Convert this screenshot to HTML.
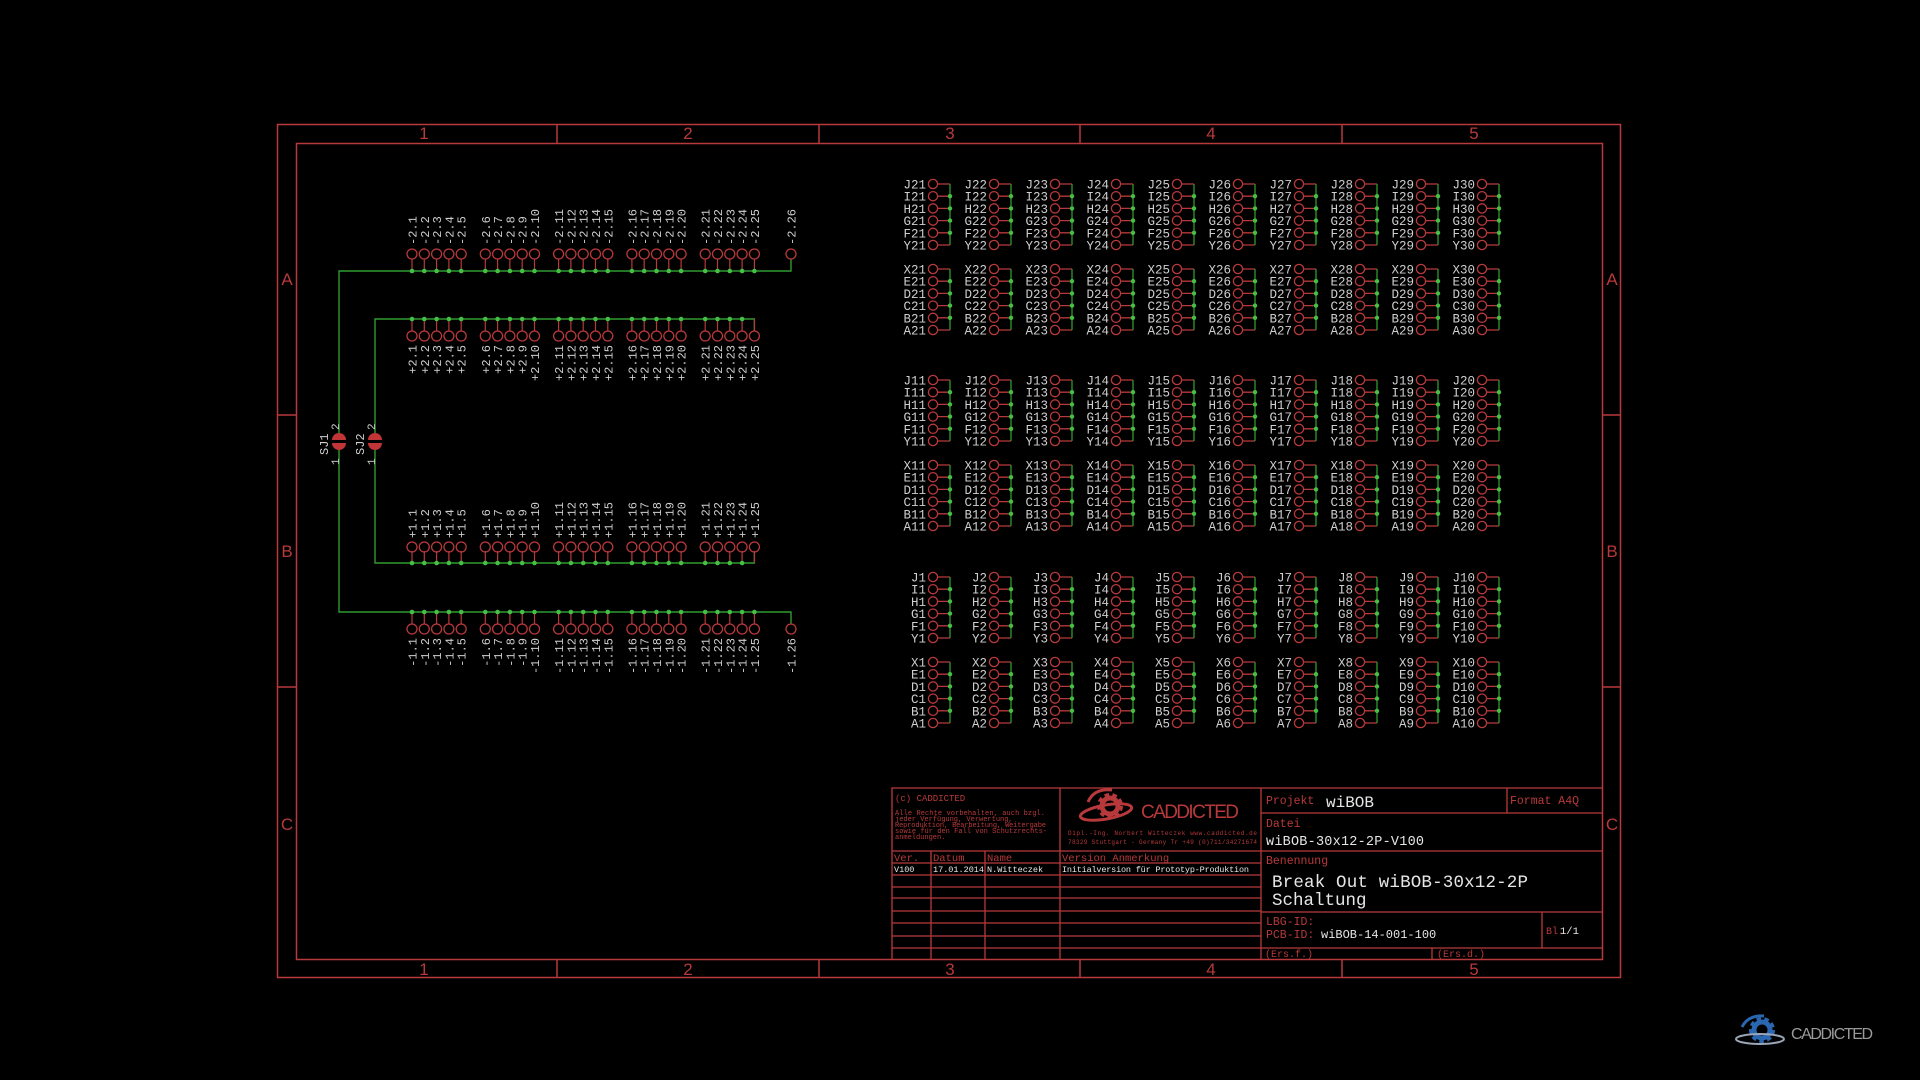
<!DOCTYPE html>
<html><head><meta charset="utf-8">
<style>
html,body{margin:0;padding:0;background:#000;}
svg{display:block;}
.m{font-family:"Liberation Mono",monospace;}
.g text{font-family:"Liberation Mono",monospace;font-size:12.5px;fill:#cfcfcf;text-anchor:end;}
.vs,.ve{font-family:"Liberation Mono",monospace;font-size:12px;fill:#cfcfcf;}
.ve{text-anchor:end;}
.r{fill:#b8393b;}
.w{fill:#e6e6e6;}
</style></head>
<body>
<svg width="1920" height="1080" viewBox="0 0 1920 1080" xmlns="http://www.w3.org/2000/svg">
<defs>
<g id="blk">
 <g fill="none" stroke="#b8393b" stroke-width="1.3">
  <circle cx="0" cy="0" r="4.6"/><circle cx="0" cy="12.2" r="4.6"/><circle cx="0" cy="24.4" r="4.6"/><circle cx="0" cy="36.6" r="4.6"/><circle cx="0" cy="48.8" r="4.6"/><circle cx="0" cy="61" r="4.6"/>
  <circle cx="0" cy="85" r="4.6"/><circle cx="0" cy="97.2" r="4.6"/><circle cx="0" cy="109.4" r="4.6"/><circle cx="0" cy="121.6" r="4.6"/><circle cx="0" cy="133.8" r="4.6"/><circle cx="0" cy="146" r="4.6"/>
  <path d="M4.6 0H17M4.6 12.2H17M4.6 24.4H17M4.6 36.6H17M4.6 48.8H17M4.6 61H17M4.6 85H17M4.6 97.2H17M4.6 109.4H17M4.6 121.6H17M4.6 133.8H17M4.6 146H17"/>
 </g>
 <path d="M17 0V61M17 85V146" stroke="#2f9a2f" stroke-width="1.3"/>
 <g fill="#45c045">
  <circle cx="17" cy="12.2" r="2.2"/><circle cx="17" cy="24.4" r="2.2"/><circle cx="17" cy="36.6" r="2.2"/><circle cx="17" cy="48.8" r="2.2"/>
  <circle cx="17" cy="97.2" r="2.2"/><circle cx="17" cy="109.4" r="2.2"/><circle cx="17" cy="121.6" r="2.2"/><circle cx="17" cy="133.8" r="2.2"/>
 </g>
</g>
<g id="pads" fill="none" stroke="#b8393b" stroke-width="1.3">
 <circle cx="412" cy="0" r="5"/><circle cx="424.3" cy="0" r="5"/><circle cx="436.6" cy="0" r="5"/><circle cx="448.9" cy="0" r="5"/><circle cx="461.2" cy="0" r="5"/>
 <circle cx="485.3" cy="0" r="5"/><circle cx="497.6" cy="0" r="5"/><circle cx="509.9" cy="0" r="5"/><circle cx="522.2" cy="0" r="5"/><circle cx="534.5" cy="0" r="5"/>
 <circle cx="558.6" cy="0" r="5"/><circle cx="570.9" cy="0" r="5"/><circle cx="583.2" cy="0" r="5"/><circle cx="595.5" cy="0" r="5"/><circle cx="607.8" cy="0" r="5"/>
 <circle cx="631.9" cy="0" r="5"/><circle cx="644.2" cy="0" r="5"/><circle cx="656.5" cy="0" r="5"/><circle cx="668.8" cy="0" r="5"/><circle cx="681.1" cy="0" r="5"/>
 <circle cx="705.2" cy="0" r="5"/><circle cx="717.5" cy="0" r="5"/><circle cx="729.8" cy="0" r="5"/><circle cx="742.1" cy="0" r="5"/><circle cx="754.4" cy="0" r="5"/>
</g>
<path id="stubs" fill="none" stroke="#b8393b" stroke-width="1.2" d="M412 0v12M424.3 0v12M436.6 0v12M448.9 0v12M461.2 0v12M485.3 0v12M497.6 0v12M509.9 0v12M522.2 0v12M534.5 0v12M558.6 0v12M570.9 0v12M583.2 0v12M595.5 0v12M607.8 0v12M631.9 0v12M644.2 0v12M656.5 0v12M668.8 0v12M681.1 0v12M705.2 0v12M717.5 0v12M729.8 0v12M742.1 0v12M754.4 0v12"/>
<g id="dots" fill="#45c045">
 <circle cx="412" cy="0" r="2.3"/><circle cx="424.3" cy="0" r="2.3"/><circle cx="436.6" cy="0" r="2.3"/><circle cx="448.9" cy="0" r="2.3"/><circle cx="461.2" cy="0" r="2.3"/>
 <circle cx="485.3" cy="0" r="2.3"/><circle cx="497.6" cy="0" r="2.3"/><circle cx="509.9" cy="0" r="2.3"/><circle cx="522.2" cy="0" r="2.3"/><circle cx="534.5" cy="0" r="2.3"/>
 <circle cx="558.6" cy="0" r="2.3"/><circle cx="570.9" cy="0" r="2.3"/><circle cx="583.2" cy="0" r="2.3"/><circle cx="595.5" cy="0" r="2.3"/><circle cx="607.8" cy="0" r="2.3"/>
 <circle cx="631.9" cy="0" r="2.3"/><circle cx="644.2" cy="0" r="2.3"/><circle cx="656.5" cy="0" r="2.3"/><circle cx="668.8" cy="0" r="2.3"/><circle cx="681.1" cy="0" r="2.3"/>
 <circle cx="705.2" cy="0" r="2.3"/><circle cx="717.5" cy="0" r="2.3"/><circle cx="729.8" cy="0" r="2.3"/><circle cx="742.1" cy="0" r="2.3"/>
</g>
</defs>

<rect width="1920" height="1080" fill="#000"/>

<!-- frame -->
<g fill="none" stroke="#b8393b" stroke-width="1.5">
 <rect x="277.5" y="124.5" width="1343" height="853"/>
 <rect x="296.5" y="143.5" width="1306" height="816"/>
 <path d="M557 124.5V143.5M819 124.5V143.5M1080 124.5V143.5M1342 124.5V143.5"/>
 <path d="M557 959.5V977.5M819 959.5V977.5M1080 959.5V977.5M1342 959.5V977.5"/>
 <path d="M277.5 415H296.5M277.5 687H296.5M1602.5 415H1620.5M1602.5 687H1620.5"/>
</g>
<g class="r" font-family="Liberation Sans, sans-serif" font-size="17" text-anchor="middle">
 <text x="424" y="139">1</text><text x="688" y="139">2</text><text x="950" y="139">3</text><text x="1211" y="139">4</text><text x="1474" y="139">5</text>
 <text x="424" y="975">1</text><text x="688" y="975">2</text><text x="950" y="975">3</text><text x="1211" y="975">4</text><text x="1474" y="975">5</text>
 <text x="287" y="285">A</text><text x="287" y="557">B</text><text x="287" y="830">C</text>
 <text x="1612" y="285">A</text><text x="1612" y="557">B</text><text x="1612" y="830">C</text>
</g>

<!-- left schematic buses -->
<g fill="none" stroke="#2f9a2f" stroke-width="1.4">
 <path d="M339 434V271H791V259"/>
 <path d="M339 448V612H791V624"/>
 <path d="M375 434V319H754.4V331"/>
 <path d="M375 448V563H754.4V552"/>
</g>
<!-- solder jumpers -->
<g>
 <path d="M332 440a7 7 0 0 1 14 0z" fill="#c23536"/><path d="M332 443a7 7 0 0 0 14 0z" fill="#c23536"/>
 <path d="M368 440a7 7 0 0 1 14 0z" fill="#c23536"/><path d="M368 443a7 7 0 0 0 14 0z" fill="#c23536"/>
</g>
<g class="vs">
 <text transform="translate(328,455) rotate(-90)">SJ1</text>
 <text transform="translate(364,455) rotate(-90)">SJ2</text>
 <text transform="translate(339,430) rotate(-90)" font-size="11">2</text>
 <text transform="translate(339,465) rotate(-90)" font-size="11">1</text>
 <text transform="translate(375,430) rotate(-90)" font-size="11">2</text>
 <text transform="translate(375,465) rotate(-90)" font-size="11">1</text>
</g>

<!-- row -2 -->
<use href="#pads" transform="translate(0,254)"/>
<use href="#stubs" transform="translate(0,259)"/>
<use href="#dots" transform="translate(0,271)"/>
<circle cx="754.4" cy="271" r="2.3" fill="#45c045"/>
<circle cx="791" cy="254" r="5" fill="none" stroke="#b8393b" stroke-width="1.3"/>
<!-- row +2 -->
<use href="#pads" transform="translate(0,336)"/>
<use href="#stubs" transform="translate(0,319)"/>
<use href="#dots" transform="translate(0,319)"/>
<!-- row +1 -->
<use href="#pads" transform="translate(0,547)"/>
<use href="#stubs" transform="translate(0,551)"/>
<use href="#dots" transform="translate(0,563)"/>
<!-- row -1 -->
<use href="#pads" transform="translate(0,629)"/>
<use href="#stubs" transform="translate(0,612)"/>
<use href="#dots" transform="translate(0,612)"/>
<circle cx="754.4" cy="612" r="2.3" fill="#45c045"/>
<circle cx="791" cy="629" r="5" fill="none" stroke="#b8393b" stroke-width="1.3"/>

<!-- labels -2 -->
<g class="vs">
<text transform="translate(416.5,245) rotate(-90)">-2.1</text><text transform="translate(428.8,245) rotate(-90)">-2.2</text><text transform="translate(441.1,245) rotate(-90)">-2.3</text><text transform="translate(453.4,245) rotate(-90)">-2.4</text><text transform="translate(465.7,245) rotate(-90)">-2.5</text>
<text transform="translate(489.8,245) rotate(-90)">-2.6</text><text transform="translate(502.1,245) rotate(-90)">-2.7</text><text transform="translate(514.4,245) rotate(-90)">-2.8</text><text transform="translate(526.7,245) rotate(-90)">-2.9</text><text transform="translate(539,245) rotate(-90)">-2.10</text>
<text transform="translate(563.1,245) rotate(-90)">-2.11</text><text transform="translate(575.4,245) rotate(-90)">-2.12</text><text transform="translate(587.7,245) rotate(-90)">-2.13</text><text transform="translate(600,245) rotate(-90)">-2.14</text><text transform="translate(612.3,245) rotate(-90)">-2.15</text>
<text transform="translate(636.4,245) rotate(-90)">-2.16</text><text transform="translate(648.7,245) rotate(-90)">-2.17</text><text transform="translate(661,245) rotate(-90)">-2.18</text><text transform="translate(673.3,245) rotate(-90)">-2.19</text><text transform="translate(685.6,245) rotate(-90)">-2.20</text>
<text transform="translate(709.7,245) rotate(-90)">-2.21</text><text transform="translate(722,245) rotate(-90)">-2.22</text><text transform="translate(734.3,245) rotate(-90)">-2.23</text><text transform="translate(746.6,245) rotate(-90)">-2.24</text><text transform="translate(758.9,245) rotate(-90)">-2.25</text>
<text transform="translate(795.5,245) rotate(-90)">-2.26</text>
</g>
<!-- labels +2 -->
<g class="ve">
<text transform="translate(416.5,345) rotate(-90)">+2.1</text><text transform="translate(428.8,345) rotate(-90)">+2.2</text><text transform="translate(441.1,345) rotate(-90)">+2.3</text><text transform="translate(453.4,345) rotate(-90)">+2.4</text><text transform="translate(465.7,345) rotate(-90)">+2.5</text>
<text transform="translate(489.8,345) rotate(-90)">+2.6</text><text transform="translate(502.1,345) rotate(-90)">+2.7</text><text transform="translate(514.4,345) rotate(-90)">+2.8</text><text transform="translate(526.7,345) rotate(-90)">+2.9</text><text transform="translate(539,345) rotate(-90)">+2.10</text>
<text transform="translate(563.1,345) rotate(-90)">+2.11</text><text transform="translate(575.4,345) rotate(-90)">+2.12</text><text transform="translate(587.7,345) rotate(-90)">+2.13</text><text transform="translate(600,345) rotate(-90)">+2.14</text><text transform="translate(612.3,345) rotate(-90)">+2.15</text>
<text transform="translate(636.4,345) rotate(-90)">+2.16</text><text transform="translate(648.7,345) rotate(-90)">+2.17</text><text transform="translate(661,345) rotate(-90)">+2.18</text><text transform="translate(673.3,345) rotate(-90)">+2.19</text><text transform="translate(685.6,345) rotate(-90)">+2.20</text>
<text transform="translate(709.7,345) rotate(-90)">+2.21</text><text transform="translate(722,345) rotate(-90)">+2.22</text><text transform="translate(734.3,345) rotate(-90)">+2.23</text><text transform="translate(746.6,345) rotate(-90)">+2.24</text><text transform="translate(758.9,345) rotate(-90)">+2.25</text>
</g>
<!-- labels +1 -->
<g class="vs">
<text transform="translate(416.5,538) rotate(-90)">+1.1</text><text transform="translate(428.8,538) rotate(-90)">+1.2</text><text transform="translate(441.1,538) rotate(-90)">+1.3</text><text transform="translate(453.4,538) rotate(-90)">+1.4</text><text transform="translate(465.7,538) rotate(-90)">+1.5</text>
<text transform="translate(489.8,538) rotate(-90)">+1.6</text><text transform="translate(502.1,538) rotate(-90)">+1.7</text><text transform="translate(514.4,538) rotate(-90)">+1.8</text><text transform="translate(526.7,538) rotate(-90)">+1.9</text><text transform="translate(539,538) rotate(-90)">+1.10</text>
<text transform="translate(563.1,538) rotate(-90)">+1.11</text><text transform="translate(575.4,538) rotate(-90)">+1.12</text><text transform="translate(587.7,538) rotate(-90)">+1.13</text><text transform="translate(600,538) rotate(-90)">+1.14</text><text transform="translate(612.3,538) rotate(-90)">+1.15</text>
<text transform="translate(636.4,538) rotate(-90)">+1.16</text><text transform="translate(648.7,538) rotate(-90)">+1.17</text><text transform="translate(661,538) rotate(-90)">+1.18</text><text transform="translate(673.3,538) rotate(-90)">+1.19</text><text transform="translate(685.6,538) rotate(-90)">+1.20</text>
<text transform="translate(709.7,538) rotate(-90)">+1.21</text><text transform="translate(722,538) rotate(-90)">+1.22</text><text transform="translate(734.3,538) rotate(-90)">+1.23</text><text transform="translate(746.6,538) rotate(-90)">+1.24</text><text transform="translate(758.9,538) rotate(-90)">+1.25</text>
</g>
<!-- labels -1 -->
<g class="ve">
<text transform="translate(416.5,638) rotate(-90)">-1.1</text><text transform="translate(428.8,638) rotate(-90)">-1.2</text><text transform="translate(441.1,638) rotate(-90)">-1.3</text><text transform="translate(453.4,638) rotate(-90)">-1.4</text><text transform="translate(465.7,638) rotate(-90)">-1.5</text>
<text transform="translate(489.8,638) rotate(-90)">-1.6</text><text transform="translate(502.1,638) rotate(-90)">-1.7</text><text transform="translate(514.4,638) rotate(-90)">-1.8</text><text transform="translate(526.7,638) rotate(-90)">-1.9</text><text transform="translate(539,638) rotate(-90)">-1.10</text>
<text transform="translate(563.1,638) rotate(-90)">-1.11</text><text transform="translate(575.4,638) rotate(-90)">-1.12</text><text transform="translate(587.7,638) rotate(-90)">-1.13</text><text transform="translate(600,638) rotate(-90)">-1.14</text><text transform="translate(612.3,638) rotate(-90)">-1.15</text>
<text transform="translate(636.4,638) rotate(-90)">-1.16</text><text transform="translate(648.7,638) rotate(-90)">-1.17</text><text transform="translate(661,638) rotate(-90)">-1.18</text><text transform="translate(673.3,638) rotate(-90)">-1.19</text><text transform="translate(685.6,638) rotate(-90)">-1.20</text>
<text transform="translate(709.7,638) rotate(-90)">-1.21</text><text transform="translate(722,638) rotate(-90)">-1.22</text><text transform="translate(734.3,638) rotate(-90)">-1.23</text><text transform="translate(746.6,638) rotate(-90)">-1.24</text><text transform="translate(758.9,638) rotate(-90)">-1.25</text>
<text transform="translate(795.5,638) rotate(-90)">-1.26</text>
</g>

<!-- right grid -->
<g class="g">
<!-- band 1 -->
<g transform="translate(933,184)"><use href="#blk"/><text><tspan x="-7" y="4.5">J21</tspan><tspan x="-7" y="16.7">I21</tspan><tspan x="-7" y="28.9">H21</tspan><tspan x="-7" y="41.1">G21</tspan><tspan x="-7" y="53.3">F21</tspan><tspan x="-7" y="65.5">Y21</tspan><tspan x="-7" y="89.5">X21</tspan><tspan x="-7" y="101.7">E21</tspan><tspan x="-7" y="113.9">D21</tspan><tspan x="-7" y="126.1">C21</tspan><tspan x="-7" y="138.3">B21</tspan><tspan x="-7" y="150.5">A21</tspan></text></g>
<g transform="translate(994,184)"><use href="#blk"/><text><tspan x="-7" y="4.5">J22</tspan><tspan x="-7" y="16.7">I22</tspan><tspan x="-7" y="28.9">H22</tspan><tspan x="-7" y="41.1">G22</tspan><tspan x="-7" y="53.3">F22</tspan><tspan x="-7" y="65.5">Y22</tspan><tspan x="-7" y="89.5">X22</tspan><tspan x="-7" y="101.7">E22</tspan><tspan x="-7" y="113.9">D22</tspan><tspan x="-7" y="126.1">C22</tspan><tspan x="-7" y="138.3">B22</tspan><tspan x="-7" y="150.5">A22</tspan></text></g>
<g transform="translate(1055,184)"><use href="#blk"/><text><tspan x="-7" y="4.5">J23</tspan><tspan x="-7" y="16.7">I23</tspan><tspan x="-7" y="28.9">H23</tspan><tspan x="-7" y="41.1">G23</tspan><tspan x="-7" y="53.3">F23</tspan><tspan x="-7" y="65.5">Y23</tspan><tspan x="-7" y="89.5">X23</tspan><tspan x="-7" y="101.7">E23</tspan><tspan x="-7" y="113.9">D23</tspan><tspan x="-7" y="126.1">C23</tspan><tspan x="-7" y="138.3">B23</tspan><tspan x="-7" y="150.5">A23</tspan></text></g>
<g transform="translate(1116,184)"><use href="#blk"/><text><tspan x="-7" y="4.5">J24</tspan><tspan x="-7" y="16.7">I24</tspan><tspan x="-7" y="28.9">H24</tspan><tspan x="-7" y="41.1">G24</tspan><tspan x="-7" y="53.3">F24</tspan><tspan x="-7" y="65.5">Y24</tspan><tspan x="-7" y="89.5">X24</tspan><tspan x="-7" y="101.7">E24</tspan><tspan x="-7" y="113.9">D24</tspan><tspan x="-7" y="126.1">C24</tspan><tspan x="-7" y="138.3">B24</tspan><tspan x="-7" y="150.5">A24</tspan></text></g>
<g transform="translate(1177,184)"><use href="#blk"/><text><tspan x="-7" y="4.5">J25</tspan><tspan x="-7" y="16.7">I25</tspan><tspan x="-7" y="28.9">H25</tspan><tspan x="-7" y="41.1">G25</tspan><tspan x="-7" y="53.3">F25</tspan><tspan x="-7" y="65.5">Y25</tspan><tspan x="-7" y="89.5">X25</tspan><tspan x="-7" y="101.7">E25</tspan><tspan x="-7" y="113.9">D25</tspan><tspan x="-7" y="126.1">C25</tspan><tspan x="-7" y="138.3">B25</tspan><tspan x="-7" y="150.5">A25</tspan></text></g>
<g transform="translate(1238,184)"><use href="#blk"/><text><tspan x="-7" y="4.5">J26</tspan><tspan x="-7" y="16.7">I26</tspan><tspan x="-7" y="28.9">H26</tspan><tspan x="-7" y="41.1">G26</tspan><tspan x="-7" y="53.3">F26</tspan><tspan x="-7" y="65.5">Y26</tspan><tspan x="-7" y="89.5">X26</tspan><tspan x="-7" y="101.7">E26</tspan><tspan x="-7" y="113.9">D26</tspan><tspan x="-7" y="126.1">C26</tspan><tspan x="-7" y="138.3">B26</tspan><tspan x="-7" y="150.5">A26</tspan></text></g>
<g transform="translate(1299,184)"><use href="#blk"/><text><tspan x="-7" y="4.5">J27</tspan><tspan x="-7" y="16.7">I27</tspan><tspan x="-7" y="28.9">H27</tspan><tspan x="-7" y="41.1">G27</tspan><tspan x="-7" y="53.3">F27</tspan><tspan x="-7" y="65.5">Y27</tspan><tspan x="-7" y="89.5">X27</tspan><tspan x="-7" y="101.7">E27</tspan><tspan x="-7" y="113.9">D27</tspan><tspan x="-7" y="126.1">C27</tspan><tspan x="-7" y="138.3">B27</tspan><tspan x="-7" y="150.5">A27</tspan></text></g>
<g transform="translate(1360,184)"><use href="#blk"/><text><tspan x="-7" y="4.5">J28</tspan><tspan x="-7" y="16.7">I28</tspan><tspan x="-7" y="28.9">H28</tspan><tspan x="-7" y="41.1">G28</tspan><tspan x="-7" y="53.3">F28</tspan><tspan x="-7" y="65.5">Y28</tspan><tspan x="-7" y="89.5">X28</tspan><tspan x="-7" y="101.7">E28</tspan><tspan x="-7" y="113.9">D28</tspan><tspan x="-7" y="126.1">C28</tspan><tspan x="-7" y="138.3">B28</tspan><tspan x="-7" y="150.5">A28</tspan></text></g>
<g transform="translate(1421,184)"><use href="#blk"/><text><tspan x="-7" y="4.5">J29</tspan><tspan x="-7" y="16.7">I29</tspan><tspan x="-7" y="28.9">H29</tspan><tspan x="-7" y="41.1">G29</tspan><tspan x="-7" y="53.3">F29</tspan><tspan x="-7" y="65.5">Y29</tspan><tspan x="-7" y="89.5">X29</tspan><tspan x="-7" y="101.7">E29</tspan><tspan x="-7" y="113.9">D29</tspan><tspan x="-7" y="126.1">C29</tspan><tspan x="-7" y="138.3">B29</tspan><tspan x="-7" y="150.5">A29</tspan></text></g>
<g transform="translate(1482,184)"><use href="#blk"/><text><tspan x="-7" y="4.5">J30</tspan><tspan x="-7" y="16.7">I30</tspan><tspan x="-7" y="28.9">H30</tspan><tspan x="-7" y="41.1">G30</tspan><tspan x="-7" y="53.3">F30</tspan><tspan x="-7" y="65.5">Y30</tspan><tspan x="-7" y="89.5">X30</tspan><tspan x="-7" y="101.7">E30</tspan><tspan x="-7" y="113.9">D30</tspan><tspan x="-7" y="126.1">C30</tspan><tspan x="-7" y="138.3">B30</tspan><tspan x="-7" y="150.5">A30</tspan></text></g>
<!-- band 2 -->
<g transform="translate(933,380)"><use href="#blk"/><text><tspan x="-7" y="4.5">J11</tspan><tspan x="-7" y="16.7">I11</tspan><tspan x="-7" y="28.9">H11</tspan><tspan x="-7" y="41.1">G11</tspan><tspan x="-7" y="53.3">F11</tspan><tspan x="-7" y="65.5">Y11</tspan><tspan x="-7" y="89.5">X11</tspan><tspan x="-7" y="101.7">E11</tspan><tspan x="-7" y="113.9">D11</tspan><tspan x="-7" y="126.1">C11</tspan><tspan x="-7" y="138.3">B11</tspan><tspan x="-7" y="150.5">A11</tspan></text></g>
<g transform="translate(994,380)"><use href="#blk"/><text><tspan x="-7" y="4.5">J12</tspan><tspan x="-7" y="16.7">I12</tspan><tspan x="-7" y="28.9">H12</tspan><tspan x="-7" y="41.1">G12</tspan><tspan x="-7" y="53.3">F12</tspan><tspan x="-7" y="65.5">Y12</tspan><tspan x="-7" y="89.5">X12</tspan><tspan x="-7" y="101.7">E12</tspan><tspan x="-7" y="113.9">D12</tspan><tspan x="-7" y="126.1">C12</tspan><tspan x="-7" y="138.3">B12</tspan><tspan x="-7" y="150.5">A12</tspan></text></g>
<g transform="translate(1055,380)"><use href="#blk"/><text><tspan x="-7" y="4.5">J13</tspan><tspan x="-7" y="16.7">I13</tspan><tspan x="-7" y="28.9">H13</tspan><tspan x="-7" y="41.1">G13</tspan><tspan x="-7" y="53.3">F13</tspan><tspan x="-7" y="65.5">Y13</tspan><tspan x="-7" y="89.5">X13</tspan><tspan x="-7" y="101.7">E13</tspan><tspan x="-7" y="113.9">D13</tspan><tspan x="-7" y="126.1">C13</tspan><tspan x="-7" y="138.3">B13</tspan><tspan x="-7" y="150.5">A13</tspan></text></g>
<g transform="translate(1116,380)"><use href="#blk"/><text><tspan x="-7" y="4.5">J14</tspan><tspan x="-7" y="16.7">I14</tspan><tspan x="-7" y="28.9">H14</tspan><tspan x="-7" y="41.1">G14</tspan><tspan x="-7" y="53.3">F14</tspan><tspan x="-7" y="65.5">Y14</tspan><tspan x="-7" y="89.5">X14</tspan><tspan x="-7" y="101.7">E14</tspan><tspan x="-7" y="113.9">D14</tspan><tspan x="-7" y="126.1">C14</tspan><tspan x="-7" y="138.3">B14</tspan><tspan x="-7" y="150.5">A14</tspan></text></g>
<g transform="translate(1177,380)"><use href="#blk"/><text><tspan x="-7" y="4.5">J15</tspan><tspan x="-7" y="16.7">I15</tspan><tspan x="-7" y="28.9">H15</tspan><tspan x="-7" y="41.1">G15</tspan><tspan x="-7" y="53.3">F15</tspan><tspan x="-7" y="65.5">Y15</tspan><tspan x="-7" y="89.5">X15</tspan><tspan x="-7" y="101.7">E15</tspan><tspan x="-7" y="113.9">D15</tspan><tspan x="-7" y="126.1">C15</tspan><tspan x="-7" y="138.3">B15</tspan><tspan x="-7" y="150.5">A15</tspan></text></g>
<g transform="translate(1238,380)"><use href="#blk"/><text><tspan x="-7" y="4.5">J16</tspan><tspan x="-7" y="16.7">I16</tspan><tspan x="-7" y="28.9">H16</tspan><tspan x="-7" y="41.1">G16</tspan><tspan x="-7" y="53.3">F16</tspan><tspan x="-7" y="65.5">Y16</tspan><tspan x="-7" y="89.5">X16</tspan><tspan x="-7" y="101.7">E16</tspan><tspan x="-7" y="113.9">D16</tspan><tspan x="-7" y="126.1">C16</tspan><tspan x="-7" y="138.3">B16</tspan><tspan x="-7" y="150.5">A16</tspan></text></g>
<g transform="translate(1299,380)"><use href="#blk"/><text><tspan x="-7" y="4.5">J17</tspan><tspan x="-7" y="16.7">I17</tspan><tspan x="-7" y="28.9">H17</tspan><tspan x="-7" y="41.1">G17</tspan><tspan x="-7" y="53.3">F17</tspan><tspan x="-7" y="65.5">Y17</tspan><tspan x="-7" y="89.5">X17</tspan><tspan x="-7" y="101.7">E17</tspan><tspan x="-7" y="113.9">D17</tspan><tspan x="-7" y="126.1">C17</tspan><tspan x="-7" y="138.3">B17</tspan><tspan x="-7" y="150.5">A17</tspan></text></g>
<g transform="translate(1360,380)"><use href="#blk"/><text><tspan x="-7" y="4.5">J18</tspan><tspan x="-7" y="16.7">I18</tspan><tspan x="-7" y="28.9">H18</tspan><tspan x="-7" y="41.1">G18</tspan><tspan x="-7" y="53.3">F18</tspan><tspan x="-7" y="65.5">Y18</tspan><tspan x="-7" y="89.5">X18</tspan><tspan x="-7" y="101.7">E18</tspan><tspan x="-7" y="113.9">D18</tspan><tspan x="-7" y="126.1">C18</tspan><tspan x="-7" y="138.3">B18</tspan><tspan x="-7" y="150.5">A18</tspan></text></g>
<g transform="translate(1421,380)"><use href="#blk"/><text><tspan x="-7" y="4.5">J19</tspan><tspan x="-7" y="16.7">I19</tspan><tspan x="-7" y="28.9">H19</tspan><tspan x="-7" y="41.1">G19</tspan><tspan x="-7" y="53.3">F19</tspan><tspan x="-7" y="65.5">Y19</tspan><tspan x="-7" y="89.5">X19</tspan><tspan x="-7" y="101.7">E19</tspan><tspan x="-7" y="113.9">D19</tspan><tspan x="-7" y="126.1">C19</tspan><tspan x="-7" y="138.3">B19</tspan><tspan x="-7" y="150.5">A19</tspan></text></g>
<g transform="translate(1482,380)"><use href="#blk"/><text><tspan x="-7" y="4.5">J20</tspan><tspan x="-7" y="16.7">I20</tspan><tspan x="-7" y="28.9">H20</tspan><tspan x="-7" y="41.1">G20</tspan><tspan x="-7" y="53.3">F20</tspan><tspan x="-7" y="65.5">Y20</tspan><tspan x="-7" y="89.5">X20</tspan><tspan x="-7" y="101.7">E20</tspan><tspan x="-7" y="113.9">D20</tspan><tspan x="-7" y="126.1">C20</tspan><tspan x="-7" y="138.3">B20</tspan><tspan x="-7" y="150.5">A20</tspan></text></g>
<!-- band 3 -->
<g transform="translate(933,577)"><use href="#blk"/><text><tspan x="-7" y="4.5">J1</tspan><tspan x="-7" y="16.7">I1</tspan><tspan x="-7" y="28.9">H1</tspan><tspan x="-7" y="41.1">G1</tspan><tspan x="-7" y="53.3">F1</tspan><tspan x="-7" y="65.5">Y1</tspan><tspan x="-7" y="89.5">X1</tspan><tspan x="-7" y="101.7">E1</tspan><tspan x="-7" y="113.9">D1</tspan><tspan x="-7" y="126.1">C1</tspan><tspan x="-7" y="138.3">B1</tspan><tspan x="-7" y="150.5">A1</tspan></text></g>
<g transform="translate(994,577)"><use href="#blk"/><text><tspan x="-7" y="4.5">J2</tspan><tspan x="-7" y="16.7">I2</tspan><tspan x="-7" y="28.9">H2</tspan><tspan x="-7" y="41.1">G2</tspan><tspan x="-7" y="53.3">F2</tspan><tspan x="-7" y="65.5">Y2</tspan><tspan x="-7" y="89.5">X2</tspan><tspan x="-7" y="101.7">E2</tspan><tspan x="-7" y="113.9">D2</tspan><tspan x="-7" y="126.1">C2</tspan><tspan x="-7" y="138.3">B2</tspan><tspan x="-7" y="150.5">A2</tspan></text></g>
<g transform="translate(1055,577)"><use href="#blk"/><text><tspan x="-7" y="4.5">J3</tspan><tspan x="-7" y="16.7">I3</tspan><tspan x="-7" y="28.9">H3</tspan><tspan x="-7" y="41.1">G3</tspan><tspan x="-7" y="53.3">F3</tspan><tspan x="-7" y="65.5">Y3</tspan><tspan x="-7" y="89.5">X3</tspan><tspan x="-7" y="101.7">E3</tspan><tspan x="-7" y="113.9">D3</tspan><tspan x="-7" y="126.1">C3</tspan><tspan x="-7" y="138.3">B3</tspan><tspan x="-7" y="150.5">A3</tspan></text></g>
<g transform="translate(1116,577)"><use href="#blk"/><text><tspan x="-7" y="4.5">J4</tspan><tspan x="-7" y="16.7">I4</tspan><tspan x="-7" y="28.9">H4</tspan><tspan x="-7" y="41.1">G4</tspan><tspan x="-7" y="53.3">F4</tspan><tspan x="-7" y="65.5">Y4</tspan><tspan x="-7" y="89.5">X4</tspan><tspan x="-7" y="101.7">E4</tspan><tspan x="-7" y="113.9">D4</tspan><tspan x="-7" y="126.1">C4</tspan><tspan x="-7" y="138.3">B4</tspan><tspan x="-7" y="150.5">A4</tspan></text></g>
<g transform="translate(1177,577)"><use href="#blk"/><text><tspan x="-7" y="4.5">J5</tspan><tspan x="-7" y="16.7">I5</tspan><tspan x="-7" y="28.9">H5</tspan><tspan x="-7" y="41.1">G5</tspan><tspan x="-7" y="53.3">F5</tspan><tspan x="-7" y="65.5">Y5</tspan><tspan x="-7" y="89.5">X5</tspan><tspan x="-7" y="101.7">E5</tspan><tspan x="-7" y="113.9">D5</tspan><tspan x="-7" y="126.1">C5</tspan><tspan x="-7" y="138.3">B5</tspan><tspan x="-7" y="150.5">A5</tspan></text></g>
<g transform="translate(1238,577)"><use href="#blk"/><text><tspan x="-7" y="4.5">J6</tspan><tspan x="-7" y="16.7">I6</tspan><tspan x="-7" y="28.9">H6</tspan><tspan x="-7" y="41.1">G6</tspan><tspan x="-7" y="53.3">F6</tspan><tspan x="-7" y="65.5">Y6</tspan><tspan x="-7" y="89.5">X6</tspan><tspan x="-7" y="101.7">E6</tspan><tspan x="-7" y="113.9">D6</tspan><tspan x="-7" y="126.1">C6</tspan><tspan x="-7" y="138.3">B6</tspan><tspan x="-7" y="150.5">A6</tspan></text></g>
<g transform="translate(1299,577)"><use href="#blk"/><text><tspan x="-7" y="4.5">J7</tspan><tspan x="-7" y="16.7">I7</tspan><tspan x="-7" y="28.9">H7</tspan><tspan x="-7" y="41.1">G7</tspan><tspan x="-7" y="53.3">F7</tspan><tspan x="-7" y="65.5">Y7</tspan><tspan x="-7" y="89.5">X7</tspan><tspan x="-7" y="101.7">E7</tspan><tspan x="-7" y="113.9">D7</tspan><tspan x="-7" y="126.1">C7</tspan><tspan x="-7" y="138.3">B7</tspan><tspan x="-7" y="150.5">A7</tspan></text></g>
<g transform="translate(1360,577)"><use href="#blk"/><text><tspan x="-7" y="4.5">J8</tspan><tspan x="-7" y="16.7">I8</tspan><tspan x="-7" y="28.9">H8</tspan><tspan x="-7" y="41.1">G8</tspan><tspan x="-7" y="53.3">F8</tspan><tspan x="-7" y="65.5">Y8</tspan><tspan x="-7" y="89.5">X8</tspan><tspan x="-7" y="101.7">E8</tspan><tspan x="-7" y="113.9">D8</tspan><tspan x="-7" y="126.1">C8</tspan><tspan x="-7" y="138.3">B8</tspan><tspan x="-7" y="150.5">A8</tspan></text></g>
<g transform="translate(1421,577)"><use href="#blk"/><text><tspan x="-7" y="4.5">J9</tspan><tspan x="-7" y="16.7">I9</tspan><tspan x="-7" y="28.9">H9</tspan><tspan x="-7" y="41.1">G9</tspan><tspan x="-7" y="53.3">F9</tspan><tspan x="-7" y="65.5">Y9</tspan><tspan x="-7" y="89.5">X9</tspan><tspan x="-7" y="101.7">E9</tspan><tspan x="-7" y="113.9">D9</tspan><tspan x="-7" y="126.1">C9</tspan><tspan x="-7" y="138.3">B9</tspan><tspan x="-7" y="150.5">A9</tspan></text></g>
<g transform="translate(1482,577)"><use href="#blk"/><text><tspan x="-7" y="4.5">J10</tspan><tspan x="-7" y="16.7">I10</tspan><tspan x="-7" y="28.9">H10</tspan><tspan x="-7" y="41.1">G10</tspan><tspan x="-7" y="53.3">F10</tspan><tspan x="-7" y="65.5">Y10</tspan><tspan x="-7" y="89.5">X10</tspan><tspan x="-7" y="101.7">E10</tspan><tspan x="-7" y="113.9">D10</tspan><tspan x="-7" y="126.1">C10</tspan><tspan x="-7" y="138.3">B10</tspan><tspan x="-7" y="150.5">A10</tspan></text></g>
</g>

<!-- title block -->
<g fill="none" stroke="#b8393b" stroke-width="1.3">
 <path d="M892 960V788H1602.5"/>
 <path d="M1060 788V851M1261 788V960"/>
 <path d="M892 851H1602.5"/>
 <path d="M892 863H1261M892 875H1261M892 887H1261M892 898H1261M892 911H1261M892 923H1261M892 936H1261M892 948H1261"/>
 <path d="M931 851V960M985 851V960M1060 851V960"/>
 <path d="M1261 813H1602.5M1507 788V813M1261 912H1602.5M1542 912V948M1261 948H1602.5M1432 948V960"/>
</g>
<g class="m r">
 <text x="895" y="801" font-size="9">(c) CADDICTED</text>
 <g font-size="7">
  <text x="895" y="815" textLength="150">Alle Rechte vorbehalten, auch bzgl.</text>
  <text x="895" y="821">jeder Verfügung, Verwertung,</text>
  <text x="895" y="827" textLength="151">Reproduktion, Bearbeitung, Weitergabe</text>
  <text x="895" y="833" textLength="152">sowie für den Fall von Schutzrechts-</text>
  <text x="895" y="839">anmeldungen.</text>
 </g>
 <g font-size="6">
  <text x="1068" y="835" textLength="189">Dipl.-Ing. Norbert Witteczek www.caddicted.de</text>
  <text x="1068" y="844" textLength="189">78329 Stuttgart - Germany  Tr +49 (0)711/34271674</text>
 </g>
 <text x="894" y="861" font-size="10.5">Ver.</text>
 <text x="933" y="861" font-size="10.5">Datum</text>
 <text x="987" y="861" font-size="10.5">Name</text>
 <text x="1062" y="861" font-size="10.5">Version Anmerkung</text>
 <text x="1266" y="804" font-size="11.5">Projekt</text>
 <text x="1510" y="804" font-size="11.5">Format A4Q</text>
 <text x="1266" y="827" font-size="11.5">Datei</text>
 <text x="1266" y="864" font-size="11.5">Benennung</text>
 <text x="1266" y="925" font-size="11.5">LBG-ID:</text>
 <text x="1266" y="938" font-size="11.5">PCB-ID:</text>
 <text x="1546" y="934" font-size="10">Bl.</text>
 <text x="1265" y="957" font-size="10">(Ers.f.)</text>
 <text x="1437" y="957" font-size="10">(Ers.d.)</text>
</g>
<g class="m w">
 <text x="894" y="872" font-size="8.5">V100</text>
 <text x="933" y="872" font-size="8.5">17.01.2014</text>
 <text x="987" y="872" font-size="8.5">N.Witteczek</text>
 <text x="1062" y="872" font-size="8.5" textLength="187">Initialversion für Prototyp-Produktion</text>
 <text x="1326" y="807" font-size="16">wiBOB</text>
 <text x="1266" y="845" font-size="13.5" textLength="158">wiBOB-30x12-2P-V100</text>
 <text x="1272" y="887" font-size="17.5" textLength="256">Break Out wiBOB-30x12-2P</text>
 <text x="1272" y="905" font-size="17.5">Schaltung</text>
 <text x="1321" y="938" font-size="12">wiBOB-14-001-100</text>
 <text x="1560" y="934" font-size="10.5">1/1</text>
</g>
<!-- logo -->
<g transform="translate(1110,806)">
 <circle r="10" fill="none" stroke="#b8393b" stroke-width="6" stroke-dasharray="4 3"/>
 <circle r="8" fill="none" stroke="#b8393b" stroke-width="5"/>
 <ellipse rx="26" ry="7" transform="translate(-4,6) rotate(-10)" fill="none" stroke="#b8393b" stroke-width="3"/>
 <path d="M-22 -4 q6 -14 24 -12" fill="none" stroke="#b8393b" stroke-width="3"/>
</g>
<text x="1141" y="818" font-family="Liberation Sans, sans-serif" font-size="19" fill="#b8393b" textLength="98">CADDICTED</text>

<!-- watermark -->
<g transform="translate(1762,1030)">
 <circle r="10" fill="none" stroke="#2a67b0" stroke-width="6" stroke-dasharray="4 3"/>
 <circle r="8" fill="none" stroke="#2a67b0" stroke-width="5"/>
 <ellipse rx="24" ry="5" transform="translate(-2,9)" fill="none" stroke="#9aa6b8" stroke-width="2"/>
 <path d="M-20 -3 q6 -12 22 -11" fill="none" stroke="#2a67b0" stroke-width="3"/>
</g>
<text x="1791" y="1039" font-family="Liberation Sans, sans-serif" font-size="16" fill="#9a9a9a" textLength="82">CADDICTED</text>
</svg>
</body></html>
